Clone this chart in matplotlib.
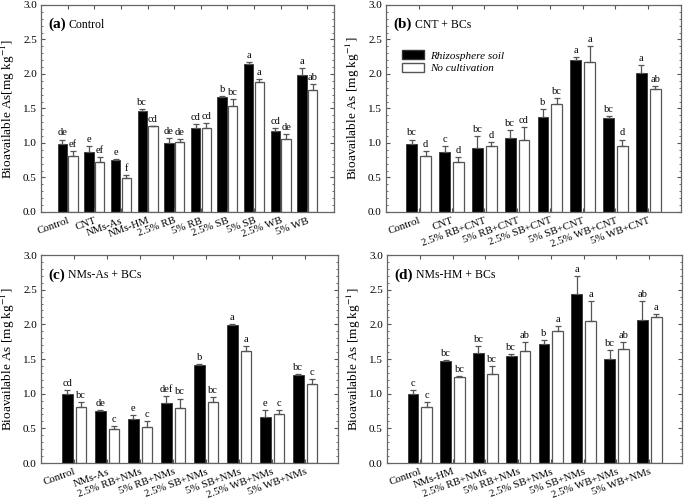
import numpy as np
import matplotlib.pyplot as plt
from matplotlib.patches import Patch
from matplotlib.ticker import MultipleLocator

plt.rcParams['font.family'] = ['Liberation Serif', 'DejaVu Serif']
plt.rcParams['mathtext.fontset'] = 'stix'

# panel (a) Control
cats_a = ["Control", "CNT", "NMs-As", "NMs-HM", "2.5% RB", "5% RB",
          "2.5% SB", "5% SB", "2.5% WB", "5% WB"]
rhizo_a = [0.99, 0.87, 0.75, 1.47, 1.00, 1.21, 1.66, 2.15, 1.18, 1.98]
rhizo_a_err = [0.06, 0.09, 0.02, 0.02, 0.07, 0.07, 0.02, 0.02, 0.03, 0.10]
nocult_a = [0.81, 0.72, 0.49, 1.24, 1.01, 1.22, 1.54, 1.89, 1.06, 1.77]
nocult_a_err = [0.07, 0.08, 0.04, 0.01, 0.05, 0.07, 0.10, 0.04, 0.07, 0.08]
let_rhizo_a = ["de", "e", "e", "bc", "de", "cd", "b", "a", "cd", "a"]
let_nocult_a = ["ef", "ef", "f", "cd", "de", "cd", "bc", "a", "de", "ab"]

# panel (b) CNT + BCs
cats_b = ["Control", "CNT", "2.5% RB+CNT", "5% RB+CNT", "2.5% SB+CNT",
          "5% SB+CNT", "2.5% WB+CNT", "5% WB+CNT"]
rhizo_b = [0.99, 0.87, 0.93, 1.07, 1.37, 2.20, 1.36, 2.02]
rhizo_b_err = [0.06, 0.09, 0.17, 0.12, 0.12, 0.05, 0.03, 0.11]
nocult_b = [0.81, 0.72, 0.96, 1.04, 1.57, 2.18, 0.96, 1.78]
nocult_b_err = [0.07, 0.08, 0.06, 0.19, 0.08, 0.22, 0.09, 0.05]
let_rhizo_b = ["bc", "c", "bc", "bc", "b", "a", "bc", "a"]
let_nocult_b = ["d", "d", "d", "cd", "bc", "a", "d", "ab"]

# panel (c) NMs-As + BCs
cats_c = ["Control", "NMs-As", "2.5% RB+NMs", "5% RB+NMs", "2.5% SB+NMs",
          "5% SB+NMs", "2.5% WB+NMs", "5% WB+NMs"]
rhizo_c = [0.99, 0.75, 0.63, 0.86, 1.41, 1.99, 0.67, 1.27]
rhizo_c_err = [0.06, 0.02, 0.06, 0.11, 0.02, 0.01, 0.10, 0.02]
nocult_c = [0.81, 0.49, 0.52, 0.79, 0.88, 1.61, 0.70, 1.14]
nocult_c_err = [0.07, 0.04, 0.09, 0.14, 0.07, 0.08, 0.06, 0.07]
let_rhizo_c = ["cd", "de", "e", "def", "b", "a", "e", "bc"]
let_nocult_c = ["bc", "c", "c", "bc", "bc", "a", "c", "c"]

# panel (d) NMs-HM + BCs
cats_d = ["Control", "NMs-HM", "2.5% RB+NMs", "5% RB+NMs", "2.5% SB+NMs",
          "5% SB+NMs", "2.5% WB+NMs", "5% WB+NMs"]
rhizo_d = [0.99, 1.47, 1.59, 1.54, 1.71, 2.44, 1.50, 2.07]
rhizo_d_err = [0.06, 0.02, 0.10, 0.03, 0.06, 0.26, 0.13, 0.26]
nocult_d = [0.81, 1.24, 1.28, 1.62, 1.91, 2.05, 1.64, 2.11]
nocult_d_err = [0.07, 0.01, 0.12, 0.12, 0.06, 0.29, 0.10, 0.04]
let_rhizo_d = ["c", "bc", "bc", "bc", "b", "a", "bc", "ab"]
let_nocult_d = ["c", "bc", "bc", "ab", "a", "a", "ab", "a"]


def panel(ax, cats, r, re, n, ne, lr, ln, tag, title, ylab):
    x = np.arange(1, len(cats) + 1)
    w = 0.33 if len(cats) == 8 else 0.35
    off = 0.21 if len(cats) == 8 else 0.2
    ekw = dict(ecolor='#555555', capsize=2.5, elinewidth=0.9, capthick=0.9)
    ax.bar(x - off, r, w, color='black', edgecolor='#333333', linewidth=0.6,
           yerr=[np.zeros(len(r)), re], error_kw=ekw)
    ax.bar(x + off, n, w, color='white', edgecolor='#555555', linewidth=0.9,
           yerr=[np.zeros(len(n)), ne], error_kw=ekw)
    for i in range(len(cats)):
        ax.text(x[i] - off, r[i] + re[i] + 0.03, lr[i], ha='center', va='bottom', fontsize=7.5)
        ax.text(x[i] + off, n[i] + ne[i] + 0.03, ln[i], ha='center', va='bottom', fontsize=7.5)
    ax.set_xlim(0, len(cats) + 1)
    ax.set_ylim(0, 3.0)
    ax.set_xticks(x)
    ax.set_xticklabels(cats, rotation=20, ha='right', rotation_mode='anchor', fontsize=7.8)
    ax.yaxis.set_major_locator(MultipleLocator(0.5))
    ax.yaxis.set_minor_locator(MultipleLocator(0.1))
    ax.yaxis.set_major_formatter(plt.FormatStrFormatter('%.1f'))
    ax.tick_params(axis='both', which='both', direction='in', top=True, right=True,
                   color='#555555')
    ax.tick_params(axis='y', labelsize=8)
    ax.tick_params(axis='both', which='major', length=3, pad=3)
    ax.tick_params(axis='y', which='minor', length=1.5)
    for s in ax.spines.values():
        s.set_color('#666666')
        s.set_linewidth(0.9)
    ax.set_ylabel(ylab, fontsize=9.5, labelpad=4)
    t = ax.text(0.025, 0.905, tag, transform=ax.transAxes, fontsize=11,
                fontweight='bold', va='center')
    ax.annotate(title, xy=(1, 0.5), xycoords=t, xytext=(2, 0),
                textcoords='offset points', fontsize=8.5, va='center')


fig = plt.figure(figsize=(6.85, 5.04), dpi=100)
ax_a = fig.add_axes([0.0599, 0.5794, 0.4277, 0.4107])
ax_b = fig.add_axes([0.5635, 0.5794, 0.4307, 0.4107])
ax_c = fig.add_axes([0.0599, 0.0813, 0.4336, 0.4127])
ax_d = fig.add_axes([0.5650, 0.0813, 0.4307, 0.4127])

ylab1 = r'Bioavailable As[mg kg$^{-1}$]'
ylab2 = r'Bioavailable As [mg kg$^{-1}$]'
panel(ax_a, cats_a, rhizo_a, rhizo_a_err, nocult_a, nocult_a_err,
      let_rhizo_a, let_nocult_a, '(a)', 'Control', ylab1)
panel(ax_b, cats_b, rhizo_b, rhizo_b_err, nocult_b, nocult_b_err,
      let_rhizo_b, let_nocult_b, '(b)', 'CNT + BCs', ylab2)
panel(ax_c, cats_c, rhizo_c, rhizo_c_err, nocult_c, nocult_c_err,
      let_rhizo_c, let_nocult_c, '(c)', 'NMs-As + BCs', ylab2)
panel(ax_d, cats_d, rhizo_d, rhizo_d_err, nocult_d, nocult_d_err,
      let_rhizo_d, let_nocult_d, '(d)', 'NMs-HM + BCs', ylab2)

handles = [Patch(facecolor='black', edgecolor='#333333'),
           Patch(facecolor='white', edgecolor='#555555')]
leg = ax_b.legend(handles, ['Rhizosphere soil', 'No cultivation'], loc='upper left',
                  bbox_to_anchor=(0.02, 0.83), frameon=False, handlelength=2.0,
                  handleheight=0.9, handletextpad=0.5, labelspacing=0.2,
                  prop={'style': 'italic', 'size': 8})

fig.savefig('out.png', dpi=100)
